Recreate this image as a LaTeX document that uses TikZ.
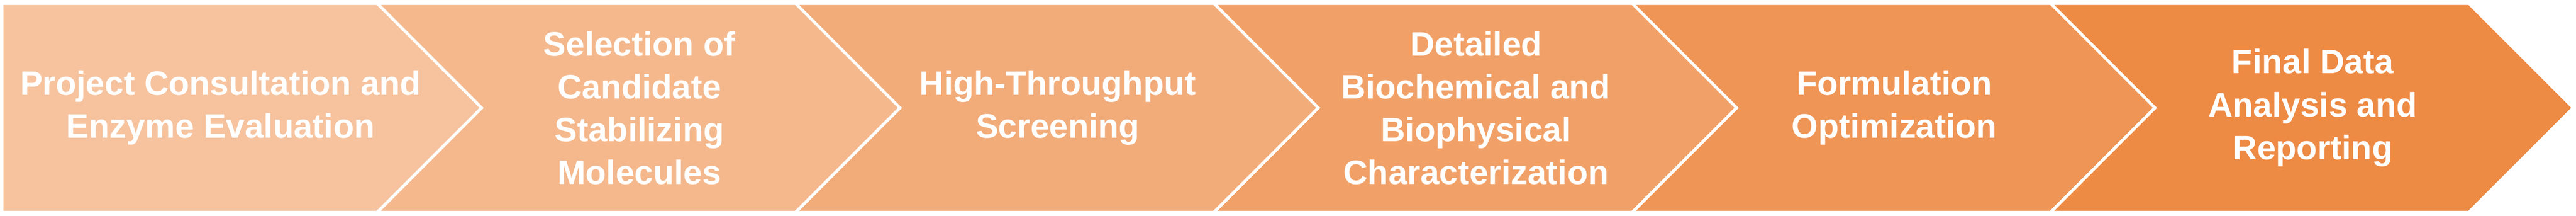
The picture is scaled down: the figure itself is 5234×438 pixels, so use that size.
\documentclass[tikz,border=0pt]{standalone}
\usepackage{fontspec}
\setmainfont{Liberation Sans}
\definecolor{c1}{RGB}{246,195,158}
\definecolor{c2}{RGB}{244,184,140}
\definecolor{c3}{RGB}{242,172,122}
\definecolor{c4}{RGB}{241,161,104}
\definecolor{c5}{RGB}{239,149,86}
\definecolor{c6}{RGB}{237,138,68}
\begin{document}
\begin{tikzpicture}[x=0.25pt,y=0.25pt,
		stage text/.style = {text=white, align=center, inner sep=0pt,
			font=\bfseries\fontsize{17.2}{21.75}\selectfont}]
		
		\useasboundingbox (0,0) rectangle (5234,438);
		
		\fill[c1] (7,10) -- (765,10) -- (974,219) -- (765,428) -- (7,428) -- cycle;
		\fill[c2] (774,10) -- (1615,10) -- (1824,219) -- (1615,428) -- (774,428) -- (983,219) -- cycle;
		\fill[c3] (1624,10) -- (2465,10) -- (2674,219) -- (2465,428) -- (1624,428) -- (1833,219) -- cycle;
		\fill[c4] (2474,10) -- (3315,10) -- (3524,219) -- (3315,428) -- (2474,428) -- (2683,219) -- cycle;
		\fill[c5] (3324,10) -- (4165,10) -- (4374,219) -- (4165,428) -- (3324,428) -- (3533,219) -- cycle;
		\fill[c6] (4174,10) -- (5015,10) -- (5224,219) -- (5015,428) -- (4174,428) -- (4383,219) -- cycle;
		
		\node[stage text] at (448,219) (1) {Project Consultation and\\Enzyme Evaluation};
		\node[stage text] at (1299,219) (2) {Selection of\\Candidate\\Stabilizing\\Molecules};
		\node[stage text] at (2149,219) (3) {High-Throughput\\Screening};
		\node[stage text] at (2999,219) (4) {Detailed\\Biochemical and\\Biophysical\\Characterization};
		\node[stage text] at (3849,219) (5) {Formulation\\Optimization};
		\node[stage text] at (4699,219) (6) {Final Data\\Analysis and\\Reporting};
		\end{tikzpicture}
\end{document}
